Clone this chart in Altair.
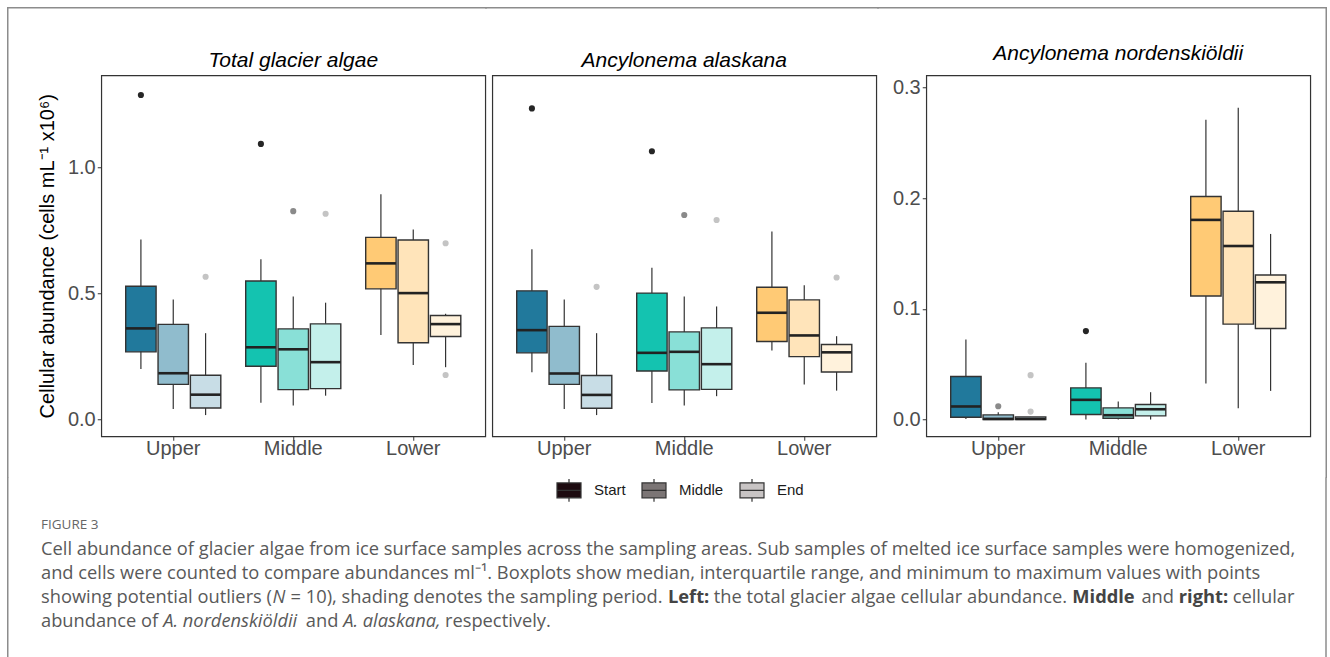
import altair as alt
import pandas as pd

# ---------------- data ----------------
zones = ["Upper", "Middle", "Lower"]
periods = ["Start", "Middle", "End"]
panel_titles = ["Total glacier algae", "Ancylonema alaskana", "Ancylonema nordenskiöldii"]
y_title = "Cellular abundance (cells mL⁻¹ x10⁶)"

# order of the 9 boxes: Upper(Start, Middle, End), Middle(...), Lower(...)
total_lo = [0.201, 0.042, 0.018, 0.067, 0.056, 0.095, 0.336, 0.217, 0.208]
total_q1 = [0.269, 0.140, 0.046, 0.212, 0.119, 0.123, 0.519, 0.305, 0.330]
total_med = [0.362, 0.184, 0.099, 0.287, 0.279, 0.228, 0.620, 0.502, 0.379]
total_q3 = [0.529, 0.378, 0.176, 0.550, 0.360, 0.380, 0.723, 0.713, 0.413]
total_hi = [0.715, 0.477, 0.343, 0.636, 0.489, 0.464, 0.894, 0.754, 0.420]
total_out_zone = ["Upper", "Upper", "Middle", "Middle", "Middle", "Lower", "Lower"]
total_out_period = ["Start", "End", "Start", "Middle", "End", "End", "End"]
total_out_value = [1.288, 0.567, 1.094, 0.827, 0.817, 0.700, 0.177]

alas_lo = [0.188, 0.042, 0.018, 0.066, 0.056, 0.093, 0.274, 0.139, 0.115]
alas_q1 = [0.265, 0.140, 0.045, 0.193, 0.118, 0.120, 0.310, 0.250, 0.189]
alas_med = [0.355, 0.183, 0.098, 0.265, 0.269, 0.220, 0.424, 0.334, 0.267]
alas_q3 = [0.511, 0.370, 0.175, 0.502, 0.348, 0.364, 0.525, 0.475, 0.298]
alas_hi = [0.676, 0.477, 0.343, 0.603, 0.489, 0.449, 0.746, 0.533, 0.331]
alas_out_zone = ["Upper", "Upper", "Middle", "Middle", "Middle", "Lower"]
alas_out_period = ["Start", "End", "Start", "Middle", "End", "End"]
alas_out_value = [1.235, 0.527, 1.065, 0.812, 0.792, 0.564]

nord_lo = [0.0005, 0.0, 0.0, 0.0, 0.0, 0.0, 0.0326, 0.0102, 0.0259]
nord_q1 = [0.0021, 0.0, 0.0, 0.0045, 0.0012, 0.0033, 0.1116, 0.0862, 0.0823]
nord_med = [0.0118, 0.0006, 0.0006, 0.0178, 0.0039, 0.0093, 0.1804, 0.1568, 0.1240]
nord_q3 = [0.0389, 0.0042, 0.0024, 0.0286, 0.0105, 0.0136, 0.2015, 0.1882, 0.1306]
nord_hi = [0.0724, 0.0066, 0.0024, 0.0513, 0.0163, 0.0247, 0.2709, 0.2817, 0.1677]
nord_out_zone = ["Upper", "Upper", "Upper", "Middle"]
nord_out_period = ["Middle", "End", "End", "Start"]
nord_out_value = [0.0120, 0.0401, 0.0072, 0.0799]

# caption text, one list of (text, style) runs per line
caption_lines = [
    [("FIGURE 3", "fig")],
    [("Cell abundance of glacier algae from ice surface samples across the sampling areas. "
      "Sub samples of melted ice surface samples were homogenized,", "reg")],
    [("and cells were counted to compare abundances ml⁻¹. Boxplots show median, "
      "interquartile range, and minimum to maximum values with points", "reg")],
    [("showing potential outliers (", "reg"), ("N", "ital"),
     (" = 10), shading denotes the sampling period. ", "reg"), ("Left:", "bold"),
     (" the total glacier algae cellular abundance. ", "reg"), ("Middle", "bold"),
     (" and ", "reg"), ("right:", "bold"), (" cellular", "reg")],
    [("abundance of ", "reg"), ("A. nordenskiöldii", "ital"), (" and ", "reg"),
     ("A. alaskana,", "ital"), (" respectively.", "reg")],
]

# ---------------- styles ----------------
box_fills = ["#21799c", "#90bccd", "#c8dde6",
             "#14c3b0", "#89e0d7", "#c4f0eb",
             "#ffca75", "#ffe4ba", "#fff2dc"]
outlier_colors = {"Start": "#262626", "Middle": "#8a8a8a", "End": "#c4c4c4"}
legend_fills = ["#1d0b10", "#7b7575", "#c8c4c4"]

FONT = "Liberation Sans"
CAP_FONT = "Open Sans"
CAP_SIZE = 18.3
BORDER = "#8c8c8c"
OX, OY = 100.25, 74.0          # page position of the first plot area
CAP_Y = OY + 405               # page position of the caption block
caption_left = 40
caption_line_y = [524, 549, 573, 597, 621]
title_baseline = [66, 66, 58.5]

# approximate Open Sans advance widths (units per 2048 em) used to chain styled runs
_ow = {' ': 532, '(': 606, ')': 606, ',': 502, '.': 545, ':': 545, '=': 1171, '-': 659,
       'A': 1296, 'B': 1327, 'C': 1292, 'D': 1493, 'E': 1139, 'F': 1057, 'G': 1491,
       'H': 1511, 'I': 571, 'L': 1073, 'M': 1849, 'N': 1556, 'O': 1595, 'R': 1266,
       'S': 1124, 'T': 1133, 'U': 1491,
       'a': 1139, 'b': 1255, 'c': 975, 'd': 1255, 'e': 1149, 'f': 694, 'g': 1122,
       'h': 1257, 'i': 518, 'j': 518, 'k': 1075, 'l': 518, 'm': 1905, 'n': 1257,
       'o': 1237, 'ö': 1237, 'p': 1255, 'q': 1255, 'r': 836, 's': 977, 't': 723,
       'u': 1257, 'v': 1026, 'w': 1593, 'x': 1073, 'y': 1028, 'z': 954}


def text_width(s, style):
    w = sum(_ow.get(c, 1171) for c in s) / 2048 * CAP_SIZE
    return w * {"bold": 1.10, "ital": 0.965}.get(style, 1.0)


W, H = 384, 361
x_scale = alt.Scale(domain=zones, paddingInner=0, paddingOuter=0.1)
xo_scale = alt.Scale(domain=periods, paddingInner=0.06, paddingOuter=0.385)
x_axis = alt.Axis(title=None, labelFontSize=20, labelColor="#4d4d4d", labelFont=FONT,
                  tickColor="#333333", tickSize=4, labelPadding=-2, labelAngle=0,
                  domain=False, grid=False)

one_row = pd.DataFrame({"k": [0]})


def rule_v(x, y1, y2):
    return alt.Chart(one_row).mark_rule(color=BORDER, strokeWidth=1.5, strokeCap="square").encode(
        x=alt.value(x), y=alt.value(y1), y2=alt.value(y2))


def rule_h(x1, x2, y):
    return alt.Chart(one_row).mark_rule(color=BORDER, strokeWidth=1.5, strokeCap="square").encode(
        x=alt.value(x1), x2=alt.value(x2), y=alt.value(y))


def title_mark(text, baseline_abs):
    return alt.Chart(pd.DataFrame({"t": [text]})).mark_text(
        font=FONT, fontSize=21, fontStyle="italic", color="black",
        align="center", baseline="alphabetic").encode(
        x=alt.value(W / 2), y=alt.value(baseline_abs - OY), text="t:N")


def panel(idx, lo, q1, med, q3, hi, oz, op, ov, ydomain, y_axis, extras,
          legend_layer=False):
    df = pd.DataFrame({
        "zone": [z for z in zones for _ in periods],
        "period": [p for _ in zones for p in periods],
        "lo": lo, "q1": q1, "med": med, "q3": q3, "hi": hi,
        "fill": box_fills,
    })
    odf = pd.DataFrame({"zone": oz, "period": op, "value": ov})
    odf["ocol"] = [outlier_colors[p] for p in op]

    x = alt.X("zone:N", sort=zones, scale=x_scale, axis=x_axis)
    xo = alt.XOffset("period:N", sort=periods, scale=xo_scale)
    ys = alt.Scale(domain=ydomain, nice=False, zero=False)

    base = alt.Chart(df)
    whisk = base.mark_rule(color="#333333", strokeWidth=1.2).encode(
        x=x, xOffset=xo, y=alt.Y("lo:Q", scale=ys, axis=y_axis), y2="hi:Q")
    box = base.mark_bar(stroke="#333333", strokeWidth=1.4).encode(
        x=x, xOffset=xo, y=alt.Y("q1:Q", scale=ys, axis=y_axis), y2="q3:Q",
        fill=alt.Fill("fill:N", scale=None))
    medl = base.mark_tick(color="#222222", thickness=2.6, size=30, opacity=1).encode(
        x=x, xOffset=xo, y=alt.Y("med:Q", scale=ys, axis=y_axis))
    outs = alt.Chart(odf).mark_circle(size=38, opacity=1).encode(
        x=x, xOffset=xo, y=alt.Y("value:Q", scale=ys, axis=y_axis),
        color=alt.Color("ocol:N", scale=None))
    layers = [whisk, box, medl, outs]
    if legend_layer:
        leg = base.mark_square(opacity=0).encode(
            x=x, xOffset=xo, y=alt.Y("med:Q", scale=ys, axis=y_axis),
            fill=alt.Fill("period:N", sort=periods,
                          scale=alt.Scale(domain=periods, range=legend_fills),
                          legend=alt.Legend(
                              title=None, orient="none", legendX=555 - OX, legendY=476 - OY,
                              direction="horizontal", padding=0,
                              symbolType="M-1,-0.62H1V0.62H-1Z M-1,0H1 M0,-0.62V-0.95 M0,0.62V0.95",
                              symbolSize=576, symbolStrokeColor="#333333",
                              symbolStrokeWidth=1.2, symbolOpacity=1,
                              labelFont=FONT, labelFontSize=15, labelColor="#1a1a1a",
                              labelOffset=12, columnPadding=13)))
        layers.append(leg)
    layers.append(title_mark(panel_titles[idx], title_baseline[idx]))
    layers += extras
    return alt.layer(*layers).properties(
        width=W, height=H,
        view=alt.ViewBackground(stroke="#333333", strokeWidth=1.2),
    )


top_y = 6.5 - OY
bot_y = 402
y_axis1 = alt.Axis(values=[0, 0.5, 1.0], format=".1f", title=y_title, titleFont=FONT,
                   titleFontSize=20, titleFontWeight="normal", titleColor="black",
                   titlePadding=10, labelFont=FONT, labelFontSize=20, labelColor="#4d4d4d",
                   tickColor="#333333", tickSize=4, labelPadding=2, grid=False, domain=False)
y_axis3 = alt.Axis(values=[0, 0.1, 0.2, 0.3], format=".1f", title=None,
                   labelFont=FONT, labelFontSize=20, labelColor="#4d4d4d",
                   tickColor="#333333", tickSize=4, labelPadding=2, grid=False, domain=False)

dom12 = [-0.066, 1.3665]
dom3 = [-0.0151, 0.3111]

p1 = panel(0, total_lo, total_q1, total_med, total_q3, total_hi,
           total_out_zone, total_out_period, total_out_value, dom12, y_axis1,
           [rule_v(6.75 - OX, top_y, bot_y), rule_h(6.75 - OX, W + 1, top_y)])
p2 = panel(1, alas_lo, alas_q1, alas_med, alas_q3, alas_hi,
           alas_out_zone, alas_out_period, alas_out_value, dom12, None,
           [rule_h(-6.5, W + 2, top_y)], legend_layer=True)
p3 = panel(2, nord_lo, nord_q1, nord_med, nord_q3, nord_hi,
           nord_out_zone, nord_out_period, nord_out_value, dom3, y_axis3,
           [rule_h(-48.5, 400, top_y), rule_v(400, top_y, bot_y)])

row = alt.hconcat(p1, p2, p3, spacing=-5)

# ---------------- caption block ----------------
rows = []
for li, runs in enumerate(caption_lines):
    xpos = caption_left
    for txt, style in runs:
        lead = len(txt) - len(txt.lstrip(" "))
        rows.append({"text": txt.strip(" "),
                     "x": xpos + text_width(" " * lead, style) - OX,
                     "y": caption_line_y[li] - CAP_Y,
                     "style": style})
        xpos += text_width(txt, style)
cap_df = pd.DataFrame(rows)


def cap_layer(style, **kw):
    return alt.Chart(cap_df).transform_filter(alt.datum.style == style).mark_text(
        align="left", baseline="middle", font=CAP_FONT, **kw).encode(
        x=alt.X("x:Q", scale=None), y=alt.Y("y:Q", scale=None), text="text:N")


cap_w = 1325 - OX
caption = alt.layer(
    rule_v(6.75 - OX, -2, 200),
    rule_v(cap_w, -2, 200),
    cap_layer("fig", fontSize=13.5, color="#666666"),
    cap_layer("reg", fontSize=CAP_SIZE, color="#595959"),
    cap_layer("ital", fontSize=CAP_SIZE, color="#595959", fontStyle="italic"),
    cap_layer("bold", fontSize=CAP_SIZE, color="#444444", fontWeight="bold"),
).properties(width=cap_w, height=180, view=alt.ViewBackground(strokeWidth=0))

chart = alt.vconcat(row, caption, spacing=-3).properties(
    padding={"left": 5.25, "top": 5.25, "right": 0, "bottom": 0},
    background="white",
).configure_view(strokeWidth=0)

chart.save("out.html", embed_options={"renderer": "svg", "actions": False})
